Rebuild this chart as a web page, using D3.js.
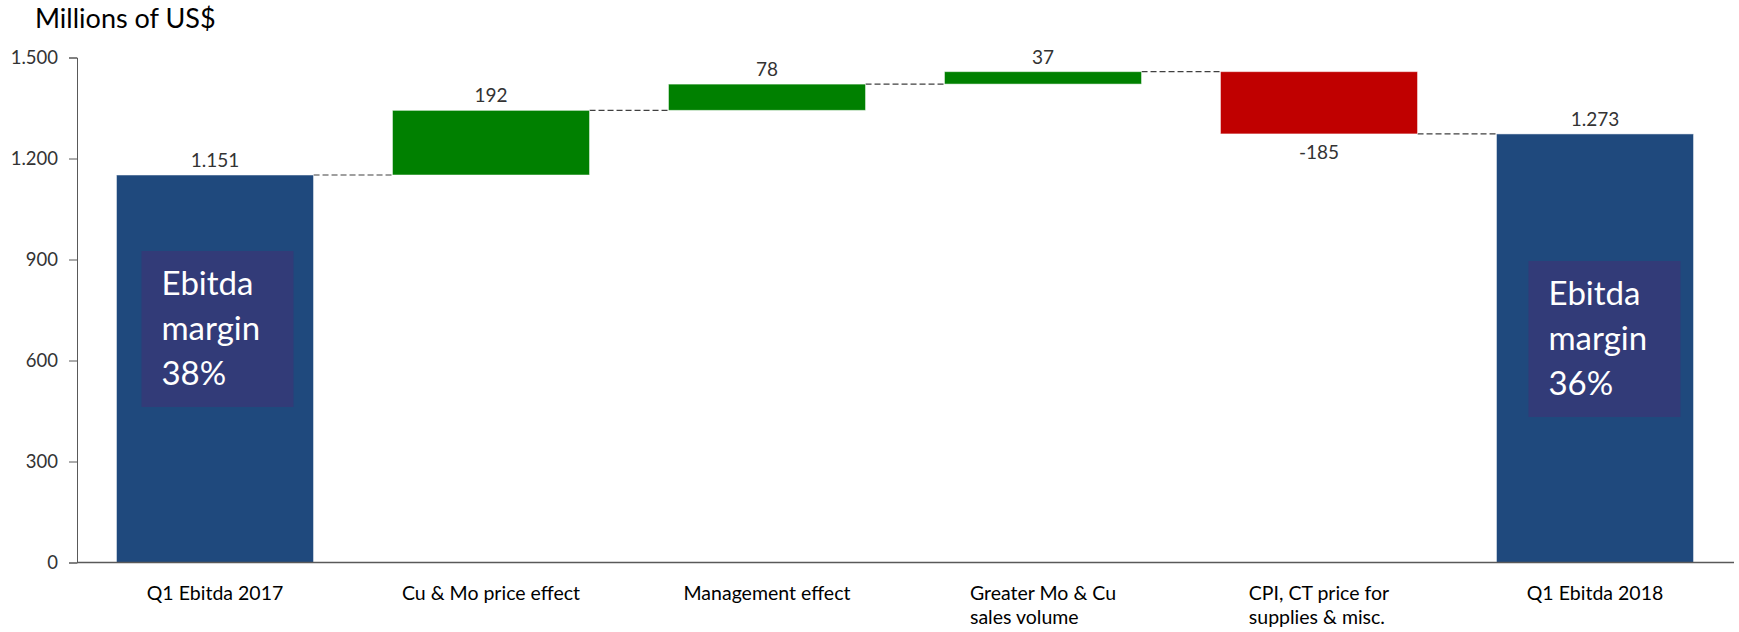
<!DOCTYPE html>
<html>
<head>
<meta charset="utf-8">
<script src="https://cdn.jsdelivr.net/npm/d3@7"></script>
<style>
  html, body { margin: 0; padding: 0; background: #fff; }
  svg { display: block; font-family: Lato, "Open Sans", sans-serif; }
</style>
</head>
<body>
<div id="chart"></div>
<script>
// chart values
const categories = [
    ['Q1 Ebitda 2017'],
    ['Cu & Mo price effect'],
    ['Management effect'],
    ['Greater Mo & Cu', 'sales volume'],
    ['CPI, CT price for', 'supplies & misc.'],
    ['Q1 Ebitda 2018'],
];
const values = [1151, 192, 78, 37, -185, 1273];
const kinds = ['total', 'delta', 'delta', 'delta', 'delta', 'total'];
const valueLabels = ['1.151', '192', '78', '37', '-185', '1.273'];
const yTicks = [0, 300, 600, 900, 1200, 1500];
const yTickLabels = ['0', '300', '600', '900', '1.200', '1.500'];
const noteBars = [0, 5];
const noteLines = [
    ['Ebitda', 'margin', '38%'],
    ['Ebitda', 'margin', '36%'],
];

const width = 1739;
const height = 632;
const margin = { top: 57.5, right: 6, bottom: 69.5, left: 77 };

const colors = {
    total: '#1f497d',
    up: '#008000',
    down: '#c00000',
    note: '#323b78',
    axis: '#595959',
    text: '#333',
};

// running totals for the waterfall
let running = 0;
const bars = values.map((v, i) => {
    let start;
    let end;
    if (kinds[i] === 'total') {
        start = 0;
        end = v;
    } else {
        start = running;
        end = running + v;
    }
    running = end;
    return { i, v, start, end, kind: kinds[i] };
});

const x = d3.scaleBand()
    .domain(d3.range(categories.length))
    .range([margin.left, width - margin.right])
    .paddingInner(0.286)
    .paddingOuter(0.143);

const y = d3.scaleLinear()
    .domain([0, 1500])
    .range([height - margin.bottom, margin.top]);

const svg = d3.select('#chart').append('svg')
    .attr('width', width)
    .attr('height', height);

// title
svg.append('text')
    .attr('x', 35)
    .attr('y', 28)
    .attr('font-size', 27)
    .attr('fill', '#000')
    .text('Millions of US$');

// y axis
const yAxis = d3.axisLeft(y)
    .tickValues(yTicks)
    .tickFormat((d, i) => yTickLabels[i])
    .tickSize(8)
    .tickPadding(11);

const gy = svg.append('g')
    .attr('transform', `translate(${margin.left},0)`)
    .call(yAxis);
gy.select('.domain').attr('stroke', colors.axis);
gy.selectAll('.tick line').attr('stroke', colors.axis);
gy.selectAll('.tick text')
    .attr('font-family', 'Lato, sans-serif')
    .attr('font-size', 18.5)
    .attr('fill', colors.text);

// connectors
svg.append('g').selectAll('line')
    .data(bars.slice(0, -1))
    .enter().append('line')
    .attr('x1', d => x(d.i) + x.bandwidth())
    .attr('x2', d => x(d.i + 1))
    .attr('y1', d => y(d.end))
    .attr('y2', d => y(d.end))
    .attr('stroke', '#404040')
    .attr('stroke-width', 1.2)
    .attr('stroke-dasharray', '6,3');

// bars
svg.append('g').selectAll('rect')
    .data(bars)
    .enter().append('rect')
    .attr('x', d => x(d.i))
    .attr('width', x.bandwidth())
    .attr('y', d => y(Math.max(d.start, d.end)))
    .attr('height', d => Math.abs(y(d.start) - y(d.end)))
    .attr('fill', (d) => {
        if (d.kind === 'total') return colors.total;
        return d.v >= 0 ? colors.up : colors.down;
    })
    .attr('stroke', 'rgba(255,255,255,0.5)')
    .attr('stroke-width', 1);

// value labels
svg.append('g').selectAll('text')
    .data(bars)
    .enter().append('text')
    .attr('x', d => x(d.i) + x.bandwidth() / 2)
    .attr('y', d => (d.v >= 0 ? y(d.end) - 8 : y(d.end) + 25))
    .attr('text-anchor', 'middle')
    .attr('font-size', 19)
    .attr('fill', colors.text)
    .text((d, i) => valueLabels[i]);

// x axis baseline
svg.append('line')
    .attr('x1', margin.left)
    .attr('x2', width - margin.right + 1)
    .attr('y1', y(0))
    .attr('y2', y(0))
    .attr('stroke', colors.axis)
    .attr('stroke-width', 1.5);

// category labels: lines left-aligned in a block centred on the band
const cat = svg.append('g').selectAll('text')
    .data(categories)
    .enter().append('text')
    .attr('font-size', 19.5)
    .attr('fill', '#000')
    .attr('y', y(0) + 37);

cat.each(function (lines, i) {
    const t = d3.select(this);
    lines.forEach((line, j) => {
        t.append('tspan')
            .attr('x', 0)
            .attr('dy', j === 0 ? 0 : 24)
            .text(line);
    });
    const w = this.getBBox().width;
    t.attr('transform', `translate(${x(i) + x.bandwidth() / 2 - w / 2},0)`);
});

// ebitda margin notes
const noteOffset = [{ dx: 25, top: 251 }, { dx: 32, top: 261 }];
const notes = svg.append('g').selectAll('g')
    .data(noteBars)
    .enter().append('g')
    .attr('transform', (d, k) => `translate(${x(d) + noteOffset[k].dx},${noteOffset[k].top})`);

notes.append('rect')
    .attr('width', 152)
    .attr('height', 156)
    .attr('fill', colors.note);

notes.each(function (d, k) {
    const g = d3.select(this);
    noteLines[k].forEach((line, j) => {
        g.append('text')
            .attr('x', 20)
            .attr('y', 44 + j * 45)
            .attr('font-size', 33)
            .attr('fill', '#fff')
            .text(line);
    });
});
</script>
</body>
</html>
